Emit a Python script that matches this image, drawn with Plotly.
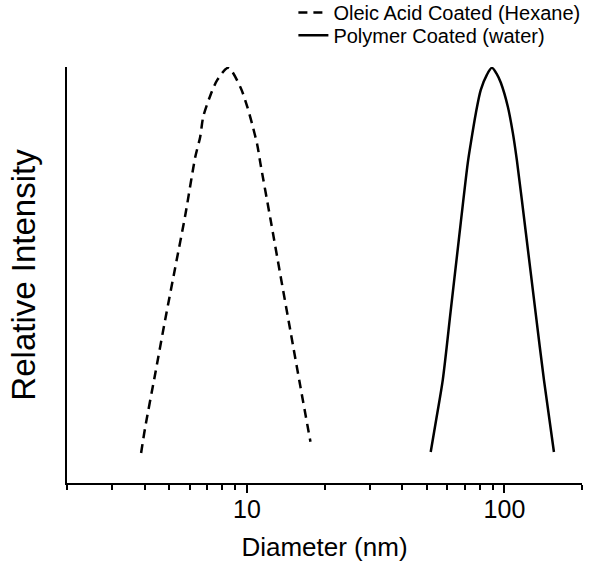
import plotly.graph_objects as go

# Oleic acid coated (hexane) - dashed
oleic_d = [3.88, 4.02, 4.40, 4.81, 5.26, 5.76, 6.30, 6.58, 6.76, 7.14, 7.67, 8.46,
           9.42, 10.03, 10.49, 10.97, 11.27, 12.33, 13.48, 14.75, 16.13, 17.64]
oleic_i = [0.072, 0.132, 0.262, 0.392, 0.517, 0.644, 0.784, 0.832, 0.880, 0.925, 0.969, 0.998,
           0.952, 0.904, 0.861, 0.812, 0.769, 0.635, 0.500, 0.365, 0.231, 0.099]

# Polymer coated (water) - solid
poly_d = [51.7, 54.6, 57.6, 61.8, 66.4, 72.0, 74.0, 77.4, 80.9, 85.4, 89.3,
          93.4, 96.8, 103.1, 107.8, 111.7, 121.1, 132.4, 142.3, 155.6]
poly_i = [0.0745, 0.161, 0.248, 0.413, 0.582, 0.769, 0.817, 0.889, 0.945, 0.981, 0.998,
          0.983, 0.962, 0.904, 0.841, 0.776, 0.601, 0.404, 0.248, 0.0745]

major_ticks = [10, 100]
major_labels = ["10", "100"]
minor_ticks = [2, 3, 4, 5, 6, 7, 8, 9, 20, 30, 40, 50, 60, 70, 80, 90, 200]

FONT = "Arial, Liberation Sans, sans-serif"

fig = go.Figure()
fig.add_trace(go.Scatter(
    x=oleic_d, y=oleic_i, mode="lines", name="Oleic Acid Coated (Hexane)",
    line=dict(color="black", width=2.5, dash="9px,6px", shape="spline", smoothing=0.8),
    legend="legend",
))
fig.add_trace(go.Scatter(
    x=poly_d, y=poly_i, mode="lines", name="Polymer Coated (water)",
    line=dict(color="black", width=2.5, shape="spline", smoothing=0.8),
    legend="legend2",
))

legend_common = dict(
    xanchor="left", yanchor="top",
    font=dict(size=20, family=FONT, color="black"),
    bgcolor="rgba(0,0,0,0)", itemwidth=30,
)

fig.update_layout(
    width=593, height=565,
    margin=dict(l=67, r=11, t=67, b=82, autoexpand=False),
    paper_bgcolor="white", plot_bgcolor="white",
    font=dict(family=FONT, color="black", size=20),
    showlegend=True,
    legend=dict(x=0.4396, y=1.178, **legend_common),
    legend2=dict(x=0.4396, y=1.123, **legend_common),
    xaxis=dict(
        type="log", range=[0.30103, 2.30103], automargin=False,
        showline=True, linecolor="black", linewidth=2, mirror=False,
        showgrid=False, zeroline=False,
        ticks="outside", ticklen=8, tickwidth=2, tickcolor="black",
        tickmode="array", tickvals=major_ticks, ticktext=major_labels,
        tickfont=dict(size=25, family=FONT, color="black"),
        ticklabelstandoff=-5,
        minor=dict(tickmode="array", tickvals=minor_ticks, ticks="outside",
                   ticklen=5, tickwidth=2, tickcolor="black", showgrid=False),
        title=dict(text="Diameter (nm)", font=dict(size=26, family=FONT, color="black"),
                   standoff=16),
    ),
    yaxis=dict(
        range=[0, 1.0], automargin=False,
        showline=True, linecolor="black", linewidth=2,
        showgrid=False, zeroline=False,
        ticks="", showticklabels=False,
        title=dict(text="Relative Intensity", font=dict(size=33, family=FONT, color="black"),
                   standoff=19),
    ),
)

fig.write_html("out.html", config={"displayModeBar": False},
               post_script="document.body.style.margin='0px';")
